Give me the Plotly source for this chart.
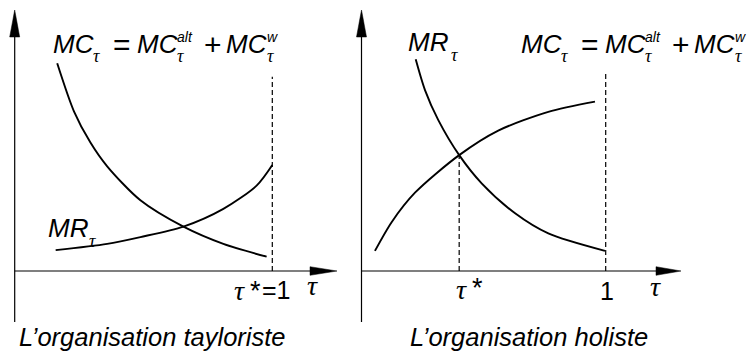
import plotly.graph_objects as go

# ---------------- data (conceptual curves) ----------------
# Left panel: "L'organisation tayloriste"
left_mc_tau = [0.165, 0.230, 0.294, 0.359, 0.488, 0.655, 0.810, 0.978]
left_mc_val = [0.796, 0.612, 0.492, 0.401, 0.271, 0.170, 0.104, 0.055]
left_mr_tau = [0.159, 0.359, 0.488, 0.655, 0.810, 0.940, 1.000]
left_mr_val = [0.080, 0.104, 0.130, 0.170, 0.238, 0.328, 0.406]
left_tau_star = 1.0
left_dash_top = 0.744

# Right panel: "L'organisation holiste"
right_mr_tau = [0.222, 0.260, 0.314, 0.400, 0.492, 0.629, 0.765, 0.997]
right_mr_val = [0.811, 0.693, 0.579, 0.444, 0.336, 0.221, 0.144, 0.077]
right_mc_tau = [0.055, 0.124, 0.219, 0.400, 0.560, 0.765, 0.956]
right_mc_val = [0.077, 0.188, 0.300, 0.444, 0.538, 0.610, 0.649]
right_tau_star = 0.40
right_star_val = 0.444
right_one = 1.0
right_one_top = 0.764

panel_titles = ["L\u2019organisation tayloriste", "L\u2019organisation holiste"]

# ---------------- geometry ----------------
W, H = 748, 354
L_X0, L_X1 = 14.7, 272.3   # px of tau=0 / tau=1, left panel
R_X0, R_X1 = 361.5, 605.7  # px of tau=0 / tau=1, right panel
PY0, PY1 = 271.0, 10.0     # px of value 0 / value 1

def xr(x0, x1):
    s = x1 - x0
    return [-x0 / s, (W - x0) / s]

yrange = [(PY0 - H) / (PY0 - PY1), PY0 / (PY0 - PY1)]

def px_to_x(px, x0, x1):
    return (px - x0) / (x1 - x0)

def py_to_y(py):
    return (PY0 - py) / (PY0 - PY1)

fig = go.Figure()

BLACK = "#000000"
CW = 1.9

def curve(xs, ys, xa, ya):
    fig.add_trace(go.Scatter(x=xs, y=ys, mode="lines", xaxis=xa, yaxis=ya,
                             line=dict(color=BLACK, width=CW, shape="spline", smoothing=0.8),
                             hoverinfo="skip", showlegend=False))

def dashed(xv, ytop, xa, ya):
    fig.add_trace(go.Scatter(x=[xv, xv], y=[0, ytop], mode="lines", xaxis=xa, yaxis=ya,
                             line=dict(color=BLACK, width=1.2, dash="5px,3px"),
                             hoverinfo="skip", showlegend=False))

curve(left_mc_tau, left_mc_val, "x", "y")
curve(left_mr_tau, left_mr_val, "x", "y")
dashed(left_tau_star, left_dash_top, "x", "y")

curve(right_mr_tau, right_mr_val, "x2", "y2")
curve(right_mc_tau, right_mc_val, "x2", "y2")
dashed(right_tau_star, right_star_val, "x2", "y2")
dashed(right_one, right_one_top, "x2", "y2")

# ---------------- axes with arrows (drawn as shapes) ----------------
shapes = []

def axes_arrows(x0px, x1px, tip_px, head_px, xref, yref):
    sx = x1px - x0px
    sy = PY0 - PY1
    ybot = py_to_y(322)
    ytip = py_to_y(10)
    ybase = py_to_y(37)
    hw = 5.0 / sx
    shapes.append(dict(type="line", xref=xref, yref=yref, x0=0, x1=0, y0=ybot, y1=ybase,
                       line=dict(color=BLACK, width=1.2)))
    shapes.append(dict(type="path", xref=xref, yref=yref,
                       path=f"M {-hw},{ybase} L 0,{ytip} L {hw},{ybase} Z",
                       fillcolor=BLACK, line=dict(color=BLACK, width=0.5)))
    xtip = px_to_x(tip_px, x0px, x1px)
    xbase = px_to_x(head_px, x0px, x1px)
    hh = 4.3 / sy
    shapes.append(dict(type="line", xref=xref, yref=yref, x0=0, x1=xbase, y0=0, y1=0,
                       line=dict(color=BLACK, width=1.2)))
    shapes.append(dict(type="path", xref=xref, yref=yref,
                       path=f"M {xbase},{-hh} L {xtip},0 L {xbase},{hh} Z",
                       fillcolor=BLACK, line=dict(color=BLACK, width=0.5)))

axes_arrows(L_X0, L_X1, 337, 310, "x", "y")
axes_arrows(R_X0, R_X1, 681, 656, "x2", "y2")

# ---------------- text ----------------
ann = []
SANS = "Liberation Sans, Arial, sans-serif"
SERIF = "Liberation Serif, Times New Roman, serif"

def txt(s, px, py, size, family=SANS, xanchor="left", italic=True):
    ann.append(dict(text=(f"<i>{s}</i>" if italic else s), x=px / W, y=1 - py / H,
                    xref="paper", yref="paper", xanchor=xanchor, yanchor="middle",
                    borderpad=0, showarrow=False,
                    font=dict(family=family, size=size, color=BLACK)))

BIG = 26
SUB = 14
TAU = 18
OP = 30

def equation(x0, yc):
    txt("MC", x0, yc, BIG)
    txt("τ", x0 + 40, yc + 13, TAU, SERIF)
    txt("=", x0 + 70, yc + 1, OP, xanchor="center", italic=False)
    txt("MC", x0 + 84, yc, BIG)
    txt("alt", x0 + 124, yc - 6, SUB)
    txt("τ", x0 + 124, yc + 13, TAU, SERIF)
    txt("+", x0 + 161, yc + 1, OP, xanchor="center", italic=False)
    txt("MC", x0 + 173, yc, BIG)
    txt("w", x0 + 214, yc - 6, SUB)
    txt("τ", x0 + 214, yc + 13, TAU, SERIF)

equation(52, 43.5)
equation(520, 43.5)

# MR labels
txt("MR", 47, 227.5, BIG)
txt("τ", 88, 241, TAU, SERIF)
txt("MR", 407, 42.5, BIG)
txt("τ", 450, 55, TAU, SERIF)

# tick labels
txt("τ", 233, 290, 28, SERIF)
txt("*", 249, 291, 27, italic=False)
txt("=1", 261, 290, 25, italic=False)
txt("τ", 306, 285, 28, SERIF)

txt("τ", 455, 289, 28, SERIF)
txt("*", 471, 288, 27, italic=False)
txt("1", 607, 291, 25, xanchor="center", italic=False)
txt("τ", 649, 286, 28, SERIF)

# panel titles
txt(panel_titles[0], 18, 337, 25.5)
txt(panel_titles[1], 409, 337, 25.5)

ax_common = dict(visible=False, showgrid=False, zeroline=False, fixedrange=True)
fig.update_layout(
    width=W, height=H,
    margin=dict(l=0, r=0, t=0, b=0),
    paper_bgcolor="white", plot_bgcolor="rgba(0,0,0,0)",
    xaxis=dict(domain=[0, 1], range=xr(L_X0, L_X1), anchor="y", **ax_common),
    yaxis=dict(domain=[0, 1], range=yrange, anchor="x", **ax_common),
    xaxis2=dict(domain=[0, 1], range=xr(R_X0, R_X1), anchor="y2", **ax_common),
    yaxis2=dict(domain=[0, 1], range=yrange, anchor="x2", overlaying="y", **ax_common),
    shapes=shapes,
    annotations=ann,
    showlegend=False,
)

fig.write_html("out.html", config={"displayModeBar": False},
               post_script="document.body.style.margin='0';document.body.style.overflow='hidden';")
